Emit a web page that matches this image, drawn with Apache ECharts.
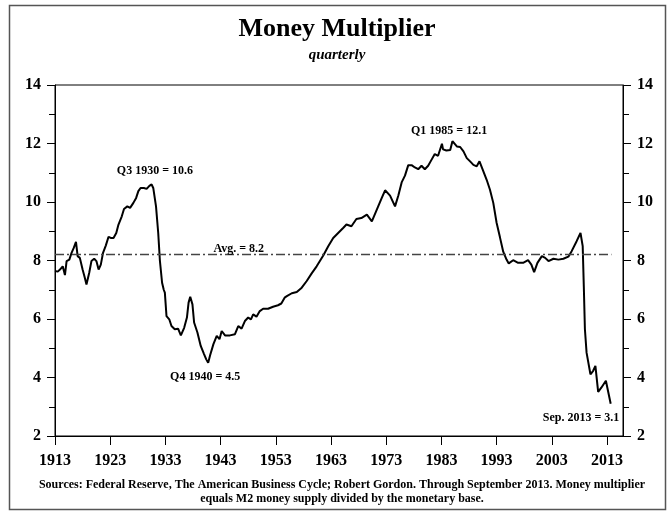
<!DOCTYPE html>
<html>
<head>
<meta charset="utf-8">
<script src="https://cdn.jsdelivr.net/npm/echarts@6/dist/echarts.min.js"></script>
<style>
html,body{margin:0;padding:0;background:#fff;}
#chart{width:668px;height:513px;}
</style>
</head>
<body>
<div id="chart"></div>
<script>
// Data (year as decimal, money multiplier)
const years = [1913.0,1913.5,1913.9,1914.4,1914.8,1915.1,1915.6,1916.0,1916.4,1916.8,1917.1,1917.5,1918.0,1918.4,1918.7,1919.2,1919.6,1920.1,1920.5,1920.9,1921.3,1921.7,1922.2,1922.7,1923.1,1923.6,1924.1,1924.5,1925.1,1925.5,1926.1,1926.6,1927.2,1927.7,1928.1,1928.5,1929.1,1929.6,1930.1,1930.5,1930.8,1931.3,1931.7,1932.0,1932.4,1932.7,1932.9,1933.2,1933.7,1934.1,1934.7,1935.3,1935.8,1936.4,1936.9,1937.2,1937.5,1937.9,1938.2,1938.8,1939.4,1940.0,1940.4,1940.75,1941.1,1941.7,1942.3,1942.8,1943.2,1943.8,1944.7,1945.6,1946.2,1946.8,1947.4,1948.0,1948.5,1948.9,1949.5,1950.1,1950.7,1951.6,1952.5,1953.4,1954.0,1954.6,1955.0,1955.9,1956.8,1957.7,1958.6,1959.5,1960.4,1961.6,1962.5,1963.4,1964.3,1965.2,1965.8,1966.7,1967.6,1968.5,1969.5,1970.4,1971.3,1972.2,1972.8,1973.7,1974.6,1975.2,1975.8,1976.4,1977.0,1977.6,1978.2,1978.8,1979.4,1980.0,1980.6,1981.2,1981.8,1982.4,1983.1,1983.3,1983.9,1984.6,1985.0,1985.8,1986.4,1987.0,1987.6,1988.2,1988.8,1989.4,1989.9,1990.5,1991.2,1991.8,1992.4,1993.0,1993.6,1994.2,1994.8,1995.2,1996.0,1996.9,1997.8,1998.7,1999.3,1999.8,2000.4,2001.2,2001.8,2002.4,2003.3,2004.2,2005.1,2006.0,2006.6,2007.5,2008.2,2008.6,2008.8,2009.0,2009.3,2009.6,2010.0,2010.5,2010.9,2011.4,2012.0,2012.8,2013.67];
const multiplier = [7.64,7.62,7.69,7.8,7.5,7.98,8.03,8.26,8.43,8.64,8.15,8.09,7.69,7.41,7.18,7.58,7.98,8.06,7.98,7.69,7.86,8.26,8.51,8.81,8.77,8.77,8.94,9.23,9.51,9.76,9.85,9.8,9.97,10.14,10.37,10.48,10.48,10.45,10.55,10.6,10.48,9.85,8.94,8.0,7.24,7.0,6.9,6.1,5.99,5.76,5.65,5.67,5.44,5.7,6.05,6.56,6.76,6.5,5.88,5.54,5.08,4.8,4.62,4.5,4.76,5.14,5.42,5.31,5.59,5.44,5.44,5.48,5.76,5.67,5.93,6.05,5.99,6.16,6.08,6.27,6.35,6.35,6.42,6.47,6.53,6.73,6.78,6.88,6.92,7.07,7.3,7.56,7.8,8.17,8.49,8.77,8.94,9.11,9.23,9.17,9.42,9.45,9.57,9.34,9.74,10.14,10.4,10.22,9.85,10.22,10.67,10.9,11.26,11.26,11.18,11.12,11.24,11.12,11.24,11.44,11.64,11.58,11.99,11.8,11.76,11.78,12.08,11.9,11.88,11.73,11.5,11.39,11.27,11.22,11.39,11.1,10.76,10.42,9.97,9.29,8.8,8.3,8.03,7.9,8.01,7.92,7.92,8.01,7.86,7.6,7.92,8.15,8.09,7.98,8.06,8.03,8.06,8.13,8.32,8.66,8.94,8.49,7.12,5.65,4.85,4.8,4.11,4.23,4.4,3.51,3.66,3.89,3.1];
const average = 8.2;
const avgSpan = [1913, 2013.8];
const xTickLabels = [1913,1923,1933,1943,1953,1963,1973,1983,1993,2003,2013];
const annoLabels = ['Q3 1930 = 10.6','Avg. = 8.2','Q4 1940 = 4.5','Q1 1985 = 12.1','Sep. 2013 = 3.1'];
const annoX = [1931.1, 1946.3, 1940.2, 1984.4, 2008.3];
const annoY = [11.07, 8.38, 4.01, 12.43, 2.61];

const FONT = "'Liberation Serif','DejaVu Serif',serif";
const chart = echarts.init(document.getElementById('chart'));

const lineData = years.map((y, i) => [y, multiplier[i]]);

function yAxisCfg(pos) {
  return {
    type: 'value', min: 2, max: 14, interval: 2, position: pos,
    axisLine: {show: true, lineStyle: {color: '#000', width: 1}},
    axisTick: {show: true, length: 8, lineStyle: {color: '#000', width: 1}},
    minorTick: {show: true, splitNumber: 2, length: 6, lineStyle: {color: '#000', width: 1}},
    splitLine: {show: false},
    minorSplitLine: {show: false},
    axisLabel: {margin: 14, fontFamily: FONT, fontWeight: 'bold', fontSize: 16, color: '#000'}
  };
}

const option = {
  backgroundColor: '#fff',
  animation: false,
  grid: {left: 55, right: 45, top: 85, bottom: 77, show: true, borderColor: '#000', borderWidth: 1, backgroundColor: 'transparent'},
  xAxis: {
    type: 'value', min: 1913, max: 2015.9,
    axisLine: {show: true, onZero: false, lineStyle: {color: '#000', width: 1}},
    axisTick: {show: true, length: 9, customValues: xTickLabels, lineStyle: {color: '#000', width: 1}},
    axisLabel: {customValues: xTickLabels, formatter: v => String(v), margin: 17, fontFamily: FONT, fontWeight: 'bold', fontSize: 16, color: '#000'},
    splitLine: {show: false}
  },
  yAxis: [yAxisCfg('left'), yAxisCfg('right')],
  series: [{
    type: 'line',
    data: lineData,
    yAxisIndex: 0,
    showSymbol: false,
    symbol: 'none',
    lineStyle: {color: '#000', width: 2},
    z: 3,
    markLine: {
      silent: true,
      symbol: 'none',
      label: {show: false},
      lineStyle: {color: '#444', width: 1.3, type: [9, 3, 2, 3]},
      data: [[{coord: [avgSpan[0], average]}, {coord: [avgSpan[1], average]}]]
    },
    markPoint: {
      silent: true,
      symbol: 'circle',
      symbolSize: 1,
      itemStyle: {color: 'rgba(0,0,0,0)'},
      label: {show: true, position: 'inside', formatter: '{b}', color: '#000', fontFamily: FONT, fontWeight: 'bold', fontSize: 12},
      data: annoLabels.map((t, i) => ({name: t, coord: [annoX[i], annoY[i]]}))
    }
  }],
  graphic: [
    {type: 'rect', silent: true, shape: {x: 9.5, y: 5.5, width: 656, height: 504}, style: {fill: 'none', stroke: '#555', lineWidth: 1.5}},
    {type: 'text', silent: true, x: 337, y: 29, style: {text: 'Money Multiplier', fill: '#000', font: "bold 26px " + FONT, textAlign: 'center', textVerticalAlign: 'middle'}},
    {type: 'text', silent: true, x: 337, y: 55, style: {text: 'quarterly', fill: '#000', font: "italic bold 15px " + FONT, textAlign: 'center', textVerticalAlign: 'middle'}},
    {type: 'text', silent: true, x: 342, y: 485, style: {text: 'Sources: Federal Reserve, The American Business Cycle; Robert Gordon. Through September 2013. Money multiplier', fill: '#000', font: "bold 12px " + FONT, textAlign: 'center', textVerticalAlign: 'middle'}},
    {type: 'text', silent: true, x: 342, y: 499, style: {text: 'equals M2 money supply divided by the monetary base.', fill: '#000', font: "bold 12px " + FONT, textAlign: 'center', textVerticalAlign: 'middle'}}
  ]
};
chart.setOption(option);
</script>
</body>
</html>
